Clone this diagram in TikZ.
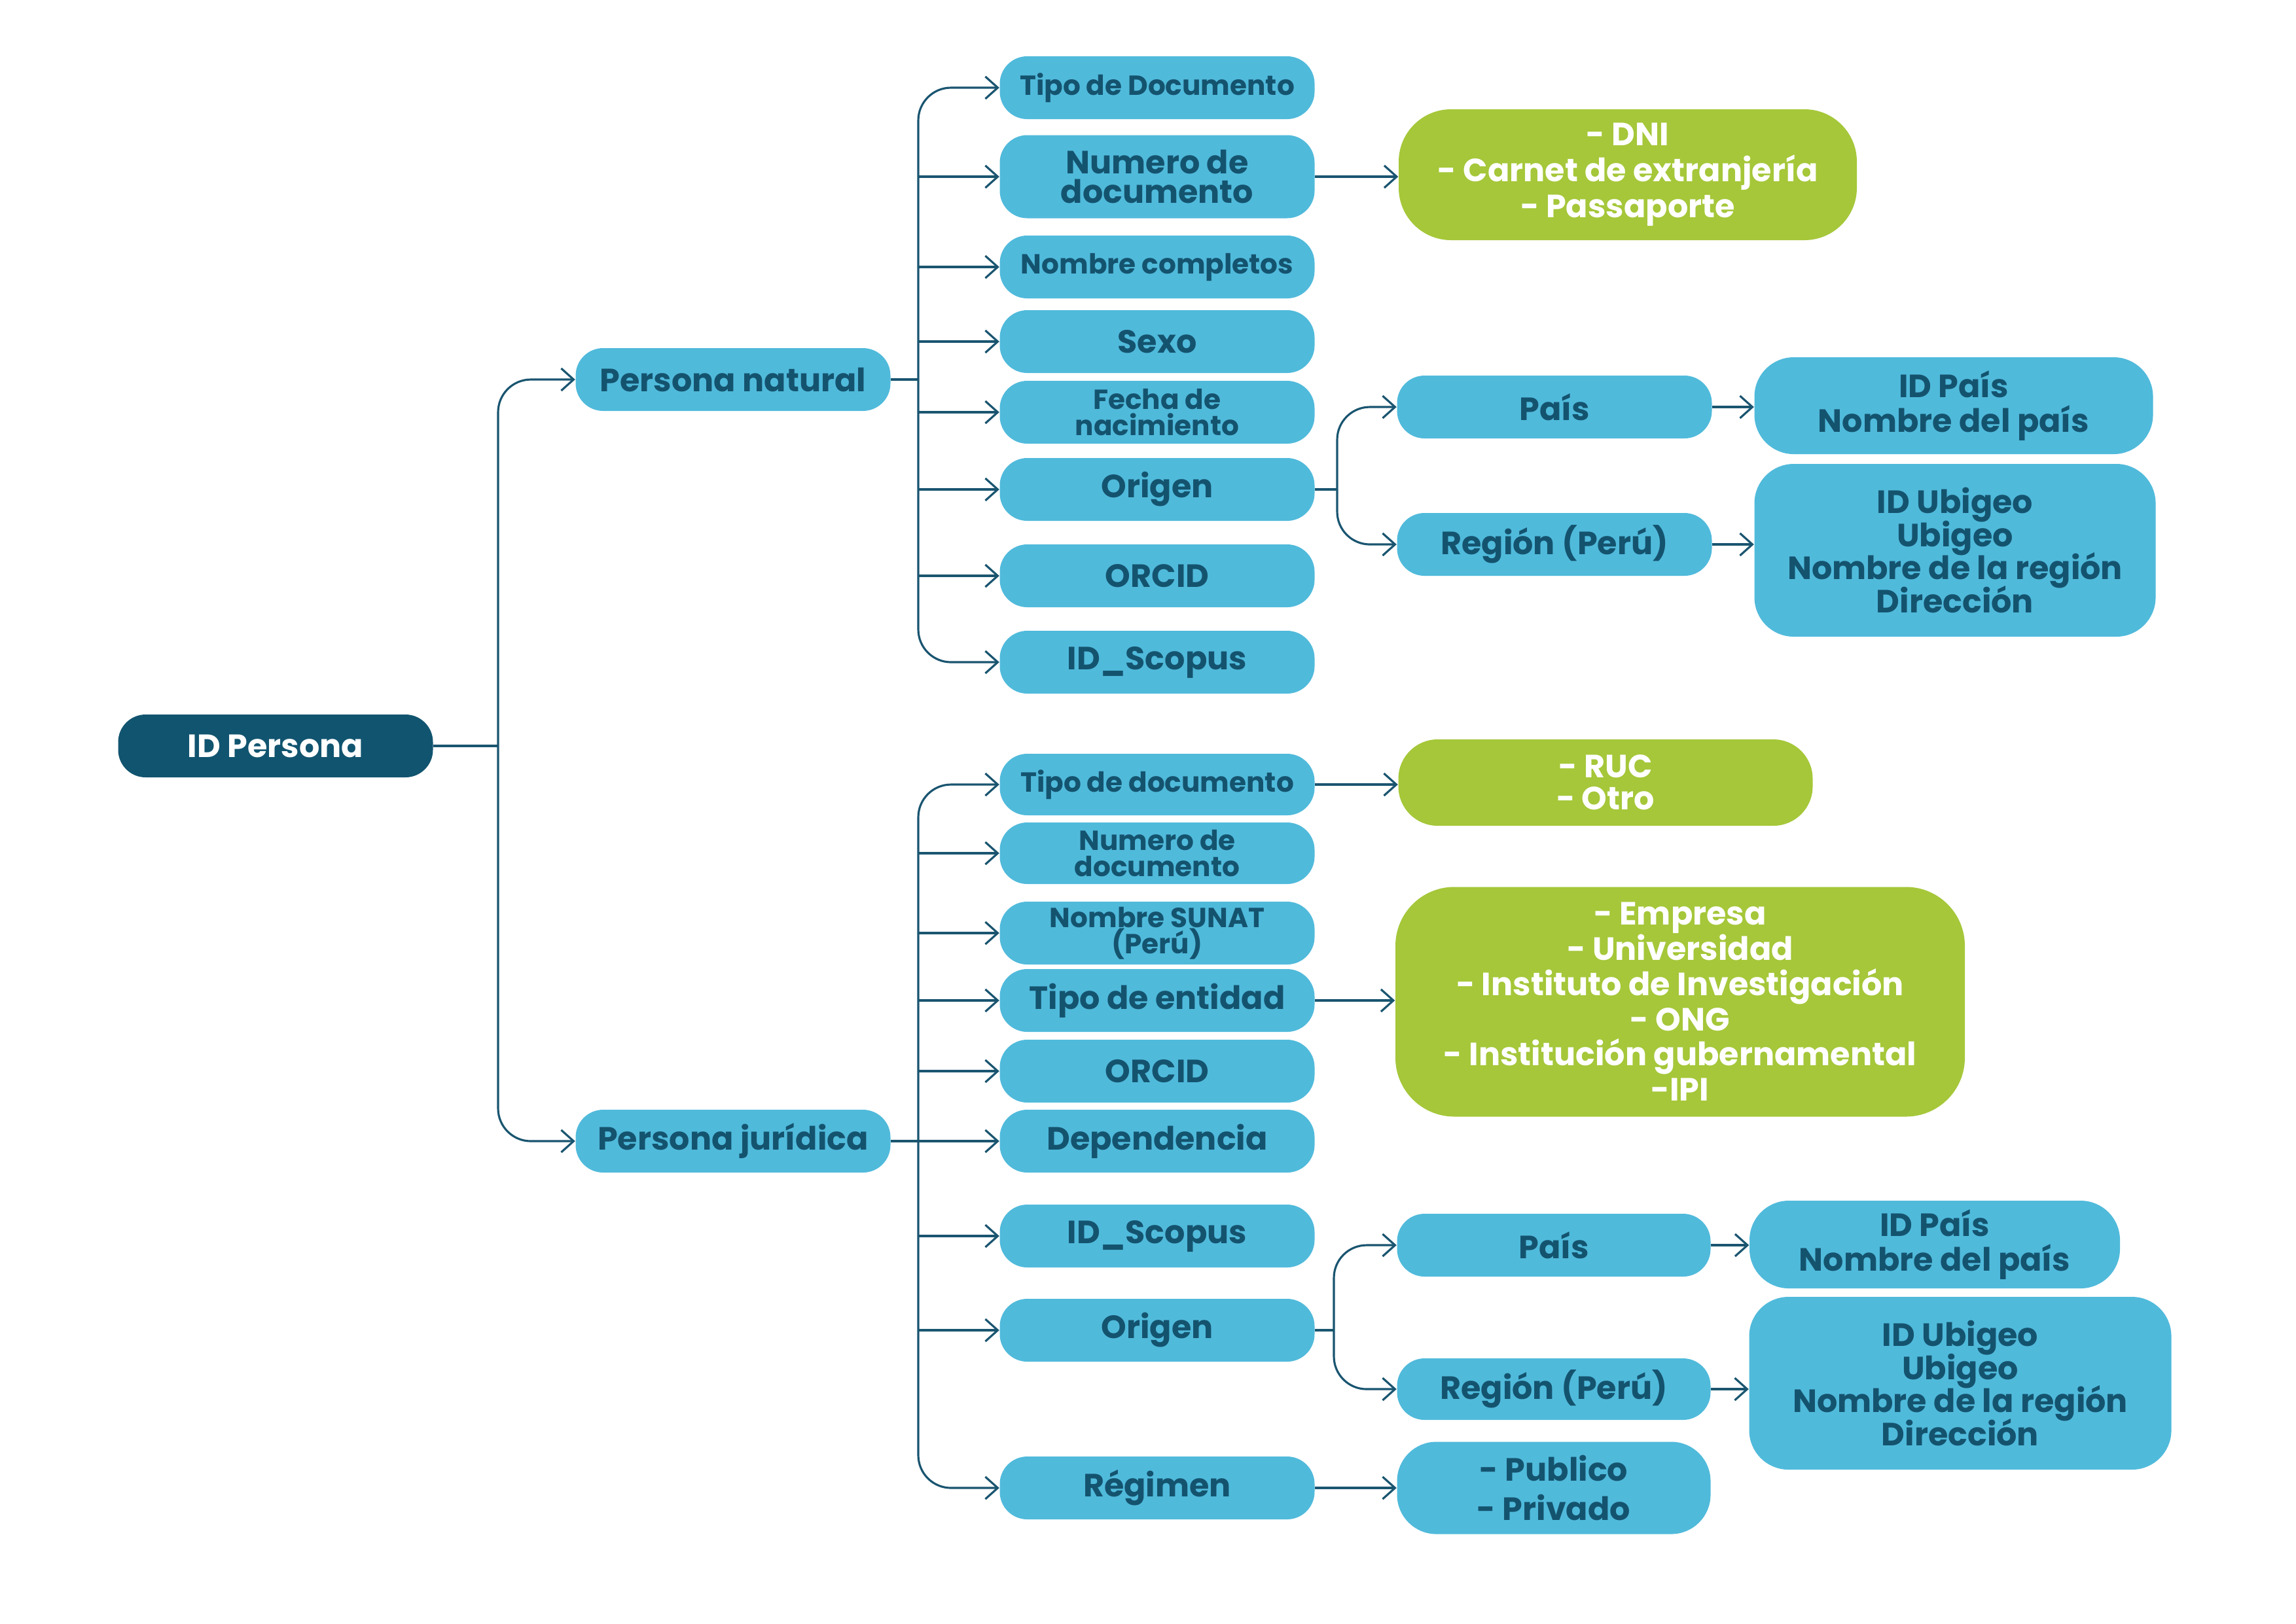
\documentclass[tikz,border=0pt]{standalone}
\usepackage{fontspec}
\setmainfont{Poppins}
\usepackage{tikz}
\usepackage{xcolor}
\usetikzlibrary{positioning,arrows.meta}
\definecolor{rootcol}{HTML}{11546F}
\definecolor{boxcol}{HTML}{50BADB}
\definecolor{txtcol}{HTML}{14536E}
\definecolor{optcol}{HTML}{A5C739}
\definecolor{linecol}{HTML}{1A5570}
\newcommand{\tightlines}{\lineskiplimit-20pt\relax}

\begin{document}
\begin{tikzpicture}[
  font=\bfseries\fontsize{14}{15.3}\selectfont,
  pill/.style={
    rounded corners=0.42cm, minimum width=4.81cm, minimum height=0.96cm,
    align=center, inner sep=0pt,
  },
  rootbox/.style={pill, fill=rootcol, text=white},
  fieldbox/.style={pill, fill=boxcol, text=txtcol},
  optbox/.style={pill, fill=optcol, text=white, rounded corners=0.8cm},
  infobox/.style={pill, fill=boxcol, text=txtcol, rounded corners=0.6cm},
  small/.style={font=\bfseries\fontsize{12}{11.5}\selectfont},
  tight/.style={font={\bfseries\fontsize{14}{14.4}\selectfont\tightlines}},
  link/.style={draw=linecol, line width=0.9pt},
  arrow/.style={link, -{Straight Barb[length=1.9mm,width=3.4mm]}},
  branch/.style={arrow, rounded corners=0.5cm},
]
\useasboundingbox (0,0) rectangle (35.08,-24.81);

% =================== root ===================
\node[rootbox] (root) at (4.21,-11.40) {ID Persona};
\node[fieldbox] (nat) at (11.20,-5.80) {Persona natural};
\node[fieldbox] (jur) at (11.20,-17.44) {Persona jurídica};

% =================== GROUP 1: persona natural ===================
\node[fieldbox, small] (tdoc1) at (17.68,-1.34) {Tipo de Documento};
\node[fieldbox, minimum height=1.27cm, font=\bfseries\fontsize{14}{13}\selectfont] (ndoc1) at (17.68,-2.70) {Numero de\\documento};
\node[fieldbox, small] (nomb) at (17.68,-4.08) {Nombre completos};
\node[fieldbox] (sexo) at (17.68,-5.22) {Sexo};
\node[fieldbox, small] (fecha) at (17.68,-6.30) {Fecha de\\nacimiento};
\node[fieldbox] (orig1) at (17.68,-7.48) {Origen};
\node[fieldbox] (orcid1) at (17.68,-8.80) {ORCID};
\node[fieldbox] (scop1) at (17.68,-10.12) {ID\_Scopus};

\node[optbox, minimum width=7.00cm, minimum height=2.00cm, font=\bfseries\fontsize{14}{15.6}\selectfont] (dni) at (24.87,-2.67) {- DNI\\- Carnet de extranjería\\- Passaporte};
\node[fieldbox] (pais1) at (23.75,-6.22) {País};
\node[fieldbox] (reg1) at (23.75,-8.32) {Región (Perú)};
\node[infobox, minimum width=6.09cm, minimum height=1.48cm] (idp1) at (29.85,-6.20) {ID País\\Nombre del país};
\node[infobox, tight, minimum width=6.13cm, minimum height=2.64cm] (ubi1) at (29.87,-8.41) {ID Ubigeo\\Ubigeo\\Nombre de la región\\Dirección};

% =================== GROUP 2: persona juridica ===================
\node[fieldbox, small, minimum height=0.94cm] (tdoc2) at (17.68,-11.99) {Tipo de documento};
\node[fieldbox, small, minimum height=0.94cm] (ndoc2) at (17.68,-13.04) {Numero de\\documento};
\node[fieldbox, small] (sunat) at (17.68,-14.26) {Nombre SUNAT\\(Perú)};
\node[fieldbox] (tent) at (17.68,-15.29) {Tipo de entidad};
\node[fieldbox] (orcid2) at (17.68,-16.37) {ORCID};
\node[fieldbox] (dep) at (17.68,-17.44) {Dependencia};
\node[fieldbox] (scop2) at (17.68,-18.89) {ID\_Scopus};
\node[fieldbox] (orig2) at (17.68,-20.33) {Origen};
\node[fieldbox] (regim) at (17.68,-22.74) {Régimen};

\node[optbox, minimum width=6.33cm, minimum height=1.32cm, rounded corners=0.6cm, font=\bfseries\fontsize{14}{14}\selectfont] (ruc) at (24.53,-11.96) {- RUC\\- Otro};
\node[optbox, minimum width=8.70cm, minimum height=3.51cm, rounded corners=0.9cm] (ent) at (25.67,-15.31) {- Empresa\\- Universidad\\- Instituto de Investigación\\- ONG\\- Institución gubernamental\\-IPI};
\node[fieldbox, minimum width=4.79cm] (pais2) at (23.74,-19.03) {País};
\node[fieldbox, minimum width=4.79cm, minimum height=0.94cm] (reg2) at (23.74,-21.23) {Región (Perú)};
\node[infobox, minimum width=5.66cm, minimum height=1.34cm] (idp2) at (29.56,-19.02) {ID País\\Nombre del país};
\node[infobox, tight, minimum width=6.45cm, minimum height=2.64cm] (ubi2) at (29.95,-21.14) {ID Ubigeo\\Ubigeo\\Nombre de la región\\Dirección};
\node[fieldbox, minimum width=4.79cm, minimum height=1.41cm, rounded corners=0.6cm, font=\bfseries\fontsize{14}{17}\selectfont] (pub) at (23.74,-22.74) {- Publico\\- Privado};

% =================== connectors ===================
\coordinate (s0) at (7.61,-11.40);
\coordinate (s1) at (14.03,-5.80);
\coordinate (s2) at (14.03,-17.44);
\coordinate (o1) at (20.43,-7.48);
\coordinate (o2) at (20.38,-20.33);

\draw[link] (root.east) -- (s0);
\draw[branch] (s0) |- (nat.west);
\draw[branch] (s0) |- (jur.west);

\draw[link] (nat.east) -- (s1);
\draw[branch] (s1) |- (tdoc1.west);
\draw[branch] (s1) |- (scop1.west);
\draw[arrow] (s1 |- ndoc1.west) -- (ndoc1.west);
\draw[arrow] (s1 |- nomb.west) -- (nomb.west);
\draw[arrow] (s1 |- sexo.west) -- (sexo.west);
\draw[arrow] (s1 |- fecha.west) -- (fecha.west);
\draw[arrow] (s1 |- orig1.west) -- (orig1.west);
\draw[arrow] (s1 |- orcid1.west) -- (orcid1.west);

\draw[arrow] (ndoc1.east) -- (dni.west |- ndoc1.east);
\draw[link] (orig1.east) -- (o1);
\draw[branch] (o1) |- (pais1.west);
\draw[branch] (o1) |- (reg1.west);
\draw[arrow] (pais1.east) -- (idp1.west |- pais1.east);
\draw[arrow] (reg1.east) -- (ubi1.west |- reg1.east);

\draw[link] (jur.east) -- (s2);
\draw[branch] (s2) |- (tdoc2.west);
\draw[branch] (s2) |- (regim.west);
\draw[arrow] (s2 |- ndoc2.west) -- (ndoc2.west);
\draw[arrow] (s2 |- sunat.west) -- (sunat.west);
\draw[arrow] (s2 |- tent.west) -- (tent.west);
\draw[arrow] (s2 |- orcid2.west) -- (orcid2.west);
\draw[arrow] (s2 |- dep.west) -- (dep.west);
\draw[arrow] (s2 |- scop2.west) -- (scop2.west);
\draw[arrow] (s2 |- orig2.west) -- (orig2.west);

\draw[arrow] (tdoc2.east) -- (ruc.west |- tdoc2.east);
\draw[arrow] (tent.east) -- (ent.west |- tent.east);
\draw[link] (orig2.east) -- (o2);
\draw[branch] (o2) |- (pais2.west);
\draw[branch] (o2) |- (reg2.west);
\draw[arrow] (pais2.east) -- (idp2.west |- pais2.east);
\draw[arrow] (reg2.east) -- (ubi2.west |- reg2.east);
\draw[arrow] (regim.east) -- (pub.west);

\end{tikzpicture}
\end{document}
